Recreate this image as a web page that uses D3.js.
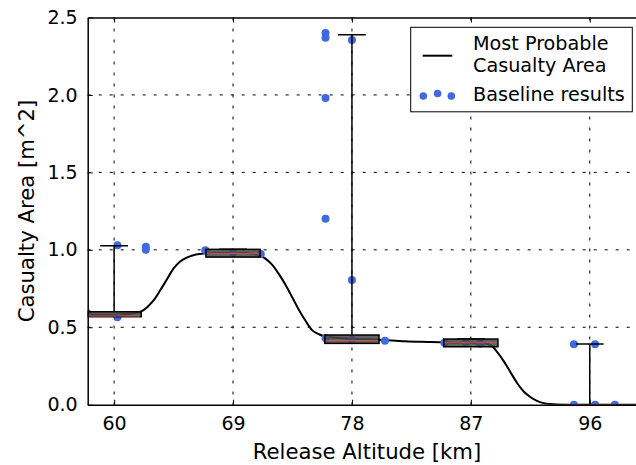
<!DOCTYPE html>
<html><head><meta charset="utf-8">
<script src="https://cdn.jsdelivr.net/npm/d3@7"></script>
<style>body{margin:0;background:#fff}svg{display:block}text{font-family:"DejaVu Sans",sans-serif}</style>
</head><body><svg id="c" width="636" height="465"></svg>
<script>
// ---- data ----
const xTicks = [60, 69, 78, 87, 96];
const yTicks = [0, 0.5, 1.0, 1.5, 2.0, 2.5];
const boxPositions = [60, 69, 78, 87, 96];
const boxQ1 = [0.568, 0.953, 0.396, 0.374, 0];
const boxMedian = [0.572, 0.977, 0.413, 0.400, 0];
const boxQ3 = [0.600, 1.003, 0.450, 0.424, 0];
const whiskerLow = [0.568, 0.953, 0.396, 0.374, 0];
const whiskerHigh = [1.026, 1.003, 2.389, 0.424, 0.392];
const baselineAlt = [58.0, 60.25, 60.25, 62.4, 62.4, 66.9, 69.0, 71.1, 76.0, 76.0, 76.0, 76.0, 76.0, 78.0, 78.0, 78.0, 80.5, 85.0, 86.6, 87.7, 94.8, 96.4, 94.8, 96.4, 97.9];
const baselineArea = [0.59, 0.565, 1.03, 1.0, 1.02, 0.997, 0.98, 0.973, 2.37, 2.40, 1.98, 1.20, 0.43, 2.354, 0.805, 0.42, 0.413, 0.40, 0.40, 0.395, 0.39, 0.39, 0, 0, 0];
const curveAlt = [58, 60, 61, 61.5, 62, 62.5, 63, 63.5, 64, 64.5, 65, 65.5, 66, 66.5, 67, 68, 69, 70, 70.5, 71, 71.5, 72, 72.5, 73, 73.5, 74, 74.5, 75, 75.5, 76, 77, 78, 80, 82, 84, 86, 87, 88, 88.5, 89, 89.5, 90, 90.5, 91, 91.5, 92, 92.5, 93, 94, 100];
const curveArea = [0.58, 0.58, 0.585, 0.59, 0.60, 0.63, 0.675, 0.74, 0.81, 0.88, 0.925, 0.95, 0.965, 0.973, 0.978, 0.98, 0.98, 0.98, 0.975, 0.965, 0.94, 0.90, 0.84, 0.77, 0.69, 0.61, 0.54, 0.48, 0.455, 0.44, 0.43, 0.425, 0.42, 0.41, 0.405, 0.40, 0.40, 0.397, 0.385, 0.34, 0.28, 0.21, 0.14, 0.085, 0.05, 0.025, 0.01, 0.004, 0, 0];
const legendLabels = ["Most Probable", "Casualty Area", "Baseline results"];

// ---- layout ----
const L = 87.7, R = 642.6, T = 17.5, B = 404.7;
const boxWidth = 4.1, capWidth = 2.1;
const svg = d3.select("#c");
const x = d3.scaleLinear().domain([58, 100]).range([L, R]);
const y = d3.scaleLinear().domain([0, 2.5]).range([B, T]);

svg.append("defs").append("clipPath").attr("id", "clip")
  .append("rect").attr("x", L).attr("y", T).attr("width", R - L).attr("height", B - T);

// grid
const grid = svg.append("g").attr("stroke", "#000").attr("stroke-width", 1).attr("stroke-dasharray", "3,8");
grid.selectAll("line.v").data(xTicks).join("line").attr("class", "v")
  .attr("x1", d => x(d)).attr("x2", d => x(d)).attr("y1", T).attr("y2", B);
grid.selectAll("line.h").data(yTicks.slice(1, -1)).join("line").attr("class", "h")
  .attr("x1", L).attr("x2", R).attr("y1", d => y(d)).attr("y2", d => y(d));

const plot = svg.append("g").attr("clip-path", "url(#clip)");

// curve
const lineGen = d3.line().x(d => x(d[0])).y(d => y(d[1])).curve(d3.curveMonotoneX);
plot.append("path").datum(curveAlt.map((a, i) => [a, curveArea[i]]))
  .attr("d", lineGen).attr("fill", "none").attr("stroke", "#000").attr("stroke-width", 2);

// points
plot.selectAll("circle.pt").data(baselineAlt.map((a, i) => [a, baselineArea[i]])).join("circle")
  .attr("class", "pt").attr("cx", d => x(d[0])).attr("cy", d => y(d[1])).attr("r", 4)
  .attr("fill", "#4169e1");

// boxes
const boxes = plot.selectAll("g.box").data(boxPositions.map((p, i) => i)).join("g").attr("class", "box");
boxes.append("line").attr("x1", i => x(boxPositions[i])).attr("x2", i => x(boxPositions[i]))
  .attr("y1", i => y(boxQ3[i])).attr("y2", i => y(whiskerHigh[i])).attr("stroke", "#000").attr("stroke-width", 1.5);
boxes.append("line").attr("x1", i => x(boxPositions[i])).attr("x2", i => x(boxPositions[i]))
  .attr("y1", i => y(boxQ1[i])).attr("y2", i => y(whiskerLow[i])).attr("stroke", "#000").attr("stroke-width", 1.5);
boxes.append("line").attr("x1", i => x(boxPositions[i] - capWidth / 2)).attr("x2", i => x(boxPositions[i] + capWidth / 2))
  .attr("y1", i => y(whiskerHigh[i])).attr("y2", i => y(whiskerHigh[i])).attr("stroke", "#000").attr("stroke-width", 1.5);
boxes.append("rect").attr("x", i => x(boxPositions[i] - boxWidth / 2))
  .attr("width", i => x(boxPositions[i] + boxWidth / 2) - x(boxPositions[i] - boxWidth / 2))
  .attr("y", i => y(boxQ3[i])).attr("height", i => Math.max(0.01, y(boxQ1[i]) - y(boxQ3[i])))
  .attr("fill", "#484848").attr("fill-opacity", 0.85).attr("stroke", "#000").attr("stroke-width", 1.5);
boxes.append("line").attr("x1", i => x(boxPositions[i] - boxWidth / 2) + 1).attr("x2", i => x(boxPositions[i] + boxWidth / 2) - 1)
  .attr("y1", i => y(boxMedian[i])).attr("y2", i => y(boxMedian[i])).attr("stroke", "#d9534f").attr("stroke-width", 1);

// axes
const fs = "19px";
const xAxisB = d3.axisBottom(x).tickValues(xTicks).tickSizeInner(-5).tickSizeOuter(0).tickPadding(12).tickFormat(d3.format("d"));
const gxb = svg.append("g").attr("transform", `translate(0,${B})`).call(xAxisB);
const xAxisT = d3.axisTop(x).tickValues(xTicks).tickSizeInner(-5).tickSizeOuter(0).tickFormat("");
const gxt = svg.append("g").attr("transform", `translate(0,${T})`).call(xAxisT);
const yAxis = d3.axisLeft(y).tickValues(yTicks).tickSizeInner(-5).tickSizeOuter(0).tickPadding(10).tickFormat(d3.format(".1f"));
const gy = svg.append("g").attr("transform", `translate(${L},0)`).call(yAxis);
[gxb, gxt, gy].forEach(g => {
  g.select(".domain").attr("stroke", "#000").attr("stroke-width", 1.5);
  g.selectAll(".tick line").attr("stroke", "#000").attr("stroke-width", 1);
  g.selectAll(".tick text").attr("fill", "#000").style("font-size", fs).style("font-family", "DejaVu Sans");
});
gxb.selectAll(".tick text").attr("dy", "0.71em");

svg.append("text").attr("x", 367).attr("y", 459).attr("text-anchor", "middle")
  .style("font-size", "21.2px").text("Release Altitude [km]");
svg.append("text").attr("transform", "translate(34,211) rotate(-90)").attr("text-anchor", "middle")
  .style("font-size", "21.2px").text("Casualty Area [m^2]");

// legend
const lg = svg.append("g");
lg.append("rect").attr("x", 410.7).attr("y", 27.3).attr("width", 221.6).attr("height", 84.5)
  .attr("fill", "#fff").attr("stroke", "#000").attr("stroke-width", 1);
lg.append("line").attr("x1", 422.7).attr("x2", 452.3).attr("y1", 55.7).attr("y2", 55.7).attr("stroke", "#000").attr("stroke-width", 2);
lg.append("text").attr("x", 473).attr("y", 50).style("font-size", "19.2px").text(legendLabels[0]);
lg.append("text").attr("x", 473).attr("y", 71.5).style("font-size", "19.2px").text(legendLabels[1]);
lg.selectAll("circle").data([[423.3, 96], [437.6, 93.5], [451.3, 96]]).join("circle")
  .attr("cx", d => d[0]).attr("cy", d => d[1]).attr("r", 3.8).attr("fill", "#4169e1");
lg.append("text").attr("x", 473).attr("y", 100.5).style("font-size", "19.2px").text(legendLabels[2]);
</script></body></html>
